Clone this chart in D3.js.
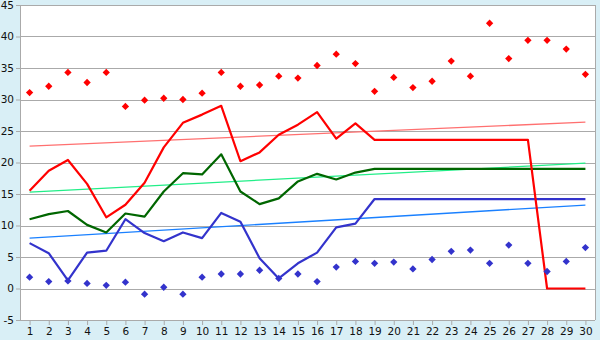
<!DOCTYPE html>
<html>
<head>
<meta charset="utf-8">
<script src="https://cdn.jsdelivr.net/npm/d3@7"></script>
<style>
  body { margin: 0; background: #d9eff6; }
</style>
</head>
<body>
<div class="chart"></div>
<script>
// day numbers along the bottom
var days = d3.range(1, 31);

// scattered points (red / blue)
var redDots = [31.1, 32.1, 34.3, 32.7, 34.3, 28.9, 29.9, 30.2, 30.0, 31.0,
  34.3, 32.1, 32.3, 33.7, 33.4, 35.4, 37.2, 35.7, 31.3, 33.5,
  31.9, 32.9, 36.1, 33.7, 42.1, 36.5, 39.4, 39.4, 38.0, 34.0];
var blueDots = [1.8, 1.1, 1.2, 0.8, 0.5, 1.0, -0.9, 0.2, -0.9, 1.8,
  2.3, 2.3, 2.9, 1.6, 2.3, 1.1, 3.4, 4.3, 4.0, 4.2,
  3.1, 4.6, 5.9, 6.1, 4.0, 6.9, 4.0, 2.7, 4.3, 6.5];

// main lines
var redLine = [15.5, 18.7, 20.4, 16.6, 11.3, 13.3, 16.8, 22.4, 26.3, 27.6,
  29.0, 20.2, 21.6, 24.4, 26.0, 28.0, 23.8, 26.2, 23.6, 23.6,
  23.6, 23.6, 23.6, 23.6, 23.6, 23.6, 23.6, 0, 0, 0];
var greenLine = [11.0, 11.8, 12.3, 10.1, 8.9, 11.9, 11.4, 15.4, 18.3, 18.1,
  21.3, 15.4, 13.4, 14.3, 17.0, 18.2, 17.3, 18.4, 19.0, 19.0,
  19.0, 19.0, 19.0, 19.0, 19.0, 19.0, 19.0, 19.0, 19.0, 19.0];
var blueLine = [7.2, 5.6, 1.3, 5.7, 6.0, 11.0, 8.8, 7.5, 8.9, 8.0,
  12.0, 10.6, 4.8, 1.6, 4.0, 5.7, 9.7, 10.3, 14.2, 14.2,
  14.2, 14.2, 14.2, 14.2, 14.2, 14.2, 14.2, 14.2, 14.2, 14.2];

// trend lines, value at day 1 and day 30
var redTrend = [22.6, 26.4];
var greenTrend = [15.3, 19.9];
var blueTrend = [8.0, 13.25];

var yTicks = d3.range(-5, 46, 5);

var svgWidth = 600;
var svgHeight = 340;
var margin = { top: 5, right: 5, bottom: 20, left: 20 };
var width = svgWidth - margin.left - margin.right;
var height = svgHeight - margin.top - margin.bottom;

var svg = d3.select(".chart")
  .append("svg")
  .attr("width", svgWidth)
  .attr("height", svgHeight);

svg.append("rect")
  .attr("width", svgWidth)
  .attr("height", svgHeight)
  .attr("fill", "#d9eff6");

var chartGroup = svg.append("g")
  .attr("transform", `translate(${margin.left}, ${margin.top})`);

var x = d3.scaleLinear().domain([0.5, 30.5]).range([0, width]);
var y = d3.scaleLinear().domain([-5, 45]).range([height, 0]);

// plot background
chartGroup.append("rect")
  .attr("width", width)
  .attr("height", height)
  .attr("fill", "#fff");

// grid lines
chartGroup.selectAll(".grid")
  .data(yTicks)
  .enter()
  .append("line")
  .attr("x1", 0)
  .attr("x2", width)
  .attr("y1", d => Math.round(y(d)) + 0.5)
  .attr("y2", d => Math.round(y(d)) + 0.5)
  .attr("stroke", "#aaa");

// right border
chartGroup.append("line")
  .attr("x1", width + 0.5).attr("x2", width + 0.5)
  .attr("y1", 0).attr("y2", height)
  .attr("stroke", "#aaa");

// axes (plain hyphen for the minus, like the original)
var leftAxis = d3.axisLeft(y).tickValues(yTicks).tickSize(4).tickPadding(2)
  .tickFormat(d => String(d));
var bottomAxis = d3.axisBottom(x).tickValues(days).tickSize(5).tickPadding(3);

var yAxis = chartGroup.append("g").call(leftAxis);
var xAxis = chartGroup.append("g")
  .attr("transform", `translate(0, ${height})`)
  .call(bottomAxis);

[yAxis, xAxis].forEach(function(ax) {
  ax.select(".domain").attr("stroke", "#aaa");
  ax.selectAll(".tick line").attr("stroke", "#aaa");
  ax.selectAll("text")
    .style("font-family", "\"DejaVu Sans\", Verdana, sans-serif")
    .style("font-size", "10.5px")
    .attr("fill", "#111");
});
xAxis.select(".domain").remove();

// trend lines
function drawTrend(vals, color) {
  chartGroup.append("line")
    .attr("x1", x(1)).attr("x2", x(30))
    .attr("y1", y(vals[0])).attr("y2", y(vals[1]))
    .attr("stroke", color)
    .attr("stroke-width", 1.3);
}
drawTrend(redTrend, "#ff7070");
drawTrend(greenTrend, "#22ee88");
drawTrend(blueTrend, "#1a80ff");

// main lines
var line = d3.line()
  .x((d, i) => x(days[i]))
  .y(d => y(d));

function drawLine(vals, color) {
  chartGroup.append("path")
    .datum(vals)
    .attr("d", line)
    .attr("fill", "none")
    .attr("stroke", color)
    .attr("stroke-width", 2.2)
    .attr("stroke-linejoin", "round");
}
drawLine(greenLine, "#006600");
drawLine(blueLine, "#3333cc");
drawLine(redLine, "#ff0000");

// markers, small plus-like diamonds
var marker = d3.symbol().type(d3.symbolDiamond2).size(34);

function drawDots(vals, color) {
  chartGroup.selectAll(null)
    .data(vals)
    .enter()
    .append("path")
    .attr("d", marker)
    .attr("transform", (d, i) => `translate(${x(days[i])}, ${y(d)})`)
    .attr("fill", color);
}
drawDots(redDots, "#ff0000");
drawDots(blueDots, "#3333cc");
</script>
</body>
</html>
